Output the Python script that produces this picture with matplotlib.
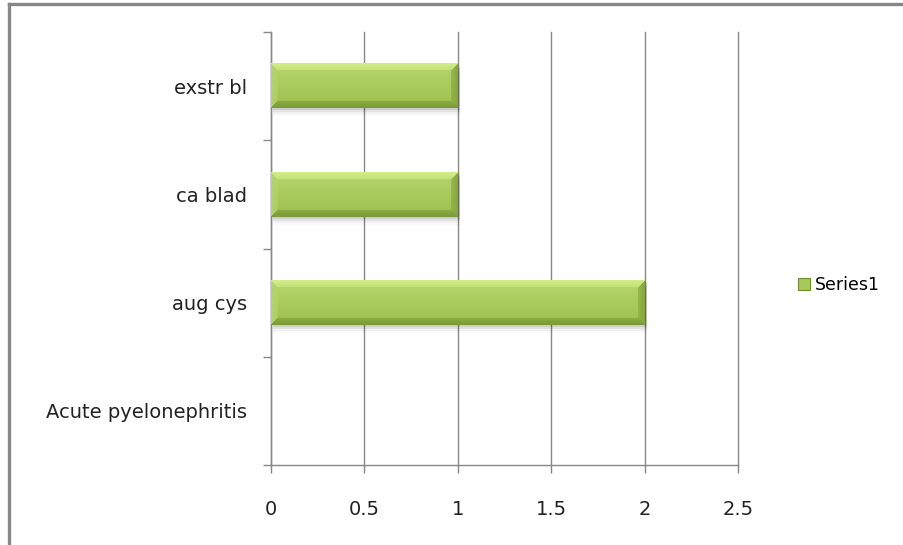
import numpy as np
import matplotlib
matplotlib.use("Agg")
import matplotlib.pyplot as plt
from matplotlib.lines import Line2D
from matplotlib.patches import Rectangle, Patch
from matplotlib.colors import to_rgb

# Data
categories = ["Acute pyelonephritis", "aug cys", "ca blad", "exstr bl"]
values = [0, 2, 1, 1]
series_name = "Series1"
x_ticks = [0, 0.5, 1, 1.5, 2, 2.5]
x_tick_labels = ["0", "0.5", "1", "1.5", "2", "2.5"]

W, H = 904, 545
fig = plt.figure(figsize=(W / 100, H / 100), dpi=100)
fig.patch.set_facecolor("white")

font = "DejaVu Sans"
grey = "#878787"
fs = 14

ax = fig.add_axes([271 / W, 1 - 465 / H, (738 - 271) / W, (465 - 32) / H])
ax.set_xlim(0, 2.5)
ax.set_ylim(-0.5, len(categories) - 0.5)
ax.set_facecolor("white")

for s in ["top", "right"]:
    ax.spines[s].set_visible(False)
for s in ["left", "bottom"]:
    ax.spines[s].set_color(grey)
    ax.spines[s].set_linewidth(1.0)

# vertical gridlines
ax.set_xticks(x_ticks)
ax.set_xticklabels(x_tick_labels, fontsize=fs, family=font, color="#222222")
ax.xaxis.grid(True, color=grey, linewidth=1.0)
for gl in ax.get_xgridlines():
    gl.set_clip_on(False)
ax.set_axisbelow(True)
ax.tick_params(axis="x", direction="out", length=6, width=1, color=grey, pad=19)

# category boundaries as major ticks, names on minor ticks
pos = np.arange(len(categories))
ax.set_yticks(np.arange(-0.5, len(categories), 1.0))
ax.set_yticklabels([])
ax.set_yticks(pos, minor=True)
ax.set_yticklabels(categories, minor=True, fontsize=fs, family=font, color="#222222")
ax.tick_params(axis="y", which="major", direction="out", length=6, width=1, color=grey)
ax.tick_params(axis="y", which="minor", length=0, pad=17)

bar_h = 0.41
bars = ax.barh(pos, values, height=bar_h, color="none", edgecolor="none", zorder=3)


def bevel_image(wpx, hpx, bevel=7):
    wpx = max(int(round(wpx)), 2)
    hpx = max(int(round(hpx)), 2)
    face_top = np.array(to_rgb("#b6d66c"))
    face_bot = np.array(to_rgb("#9dc04f"))
    top_c = np.array(to_rgb("#d2ec88"))
    bot_c = np.array(to_rgb("#7a9a36"))
    left_c = np.array(to_rgb("#b4d46a"))
    right_c = np.array(to_rgb("#86a63f"))
    ii, jj = np.mgrid[0:hpx, 0:wpx]
    dt = ii
    db = hpx - 1 - ii
    dl = jj
    dr = wpx - 1 - jj
    t = (ii / max(hpx - 1, 1))[..., None]
    img = face_top * (1 - t) + face_bot * t
    d = np.stack([dt, db, dl, dr], axis=-1)
    side = np.argmin(d, axis=-1)
    m = np.min(d, axis=-1)
    cols = [top_c, bot_c, left_c, right_c]
    for k, c in enumerate(cols):
        mask = (side == k) & (m < bevel)
        # blend from edge colour toward the face colour
        f = (m[mask] / bevel)[:, None]
        img[mask] = c * (1 - 0.5 * f) + img[mask] * (0.5 * f)
    return img


fig.canvas.draw()
to_px = ax.transData
dy = (ax.get_ylim()[1] - ax.get_ylim()[0]) / ax.bbox.height
dx = (ax.get_xlim()[1] - ax.get_xlim()[0]) / ax.bbox.width
for b, v in zip(bars, values):
    if v <= 0:
        continue
    x0, y0 = b.get_x(), b.get_y()
    w, h = b.get_width(), b.get_height()
    (px0, py0) = to_px.transform((x0, y0))
    (px1, py1) = to_px.transform((x0 + w, y0 + h))
    # soft shadow under the bar
    for k, a in enumerate([0.09, 0.06, 0.035, 0.02]):
        ax.add_patch(Rectangle((x0 + 2 * dx, y0 - (2 + 2 * k) * dy), w, h,
                               facecolor="black", alpha=a, edgecolor="none", zorder=2))
    img = bevel_image(px1 - px0, py1 - py0)
    ax.imshow(img, extent=[x0, x0 + w, y0, y0 + h], origin="upper",
              aspect="auto", zorder=4, interpolation="bilinear")

ax.set_xlim(0, 2.5)
ax.set_ylim(-0.5, len(categories) - 0.5)

# legend
handle = Patch(facecolor="#a5c95a", edgecolor="#6f8e2e", linewidth=0.8)
fig.legend([handle], [series_name], loc="center left",
           bbox_to_anchor=(782 / W, 1 - 285 / H), frameon=False,
           handlelength=0.7, handleheight=0.7, handletextpad=0.3,
           prop={"family": font, "size": 12.5})

# outer chart frame
fig.add_artist(Line2D([9 / W, 1], [1 - 4 / H, 1 - 4 / H], transform=fig.transFigure,
                      color=grey, linewidth=2.4))
fig.add_artist(Line2D([9 / W, 9 / W], [1 - 4 / H, 0], transform=fig.transFigure,
                      color=grey, linewidth=2.4))

fig.savefig("out.png", dpi=100, facecolor="white")
